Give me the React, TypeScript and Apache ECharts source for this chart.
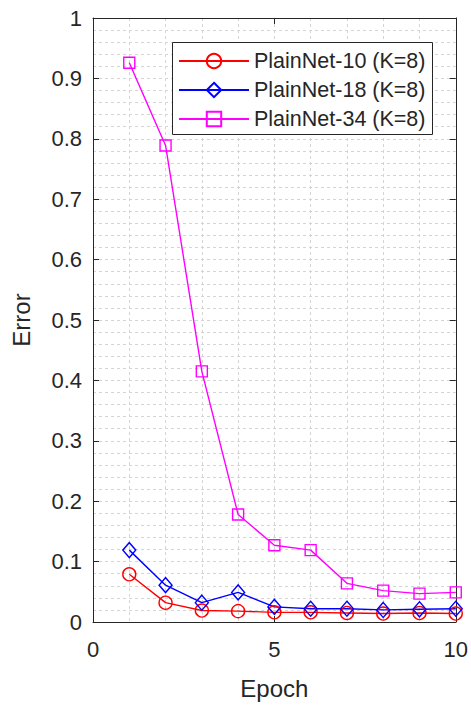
import React, { useEffect, useRef } from "react";
import * as echarts from "echarts";

// Training error per epoch for three plain networks
const epochs = [1, 2, 3, 4, 5, 6, 7, 8, 9, 10];
const plainNet10 = [0.079, 0.032, 0.019, 0.018, 0.016, 0.016, 0.015, 0.014, 0.015, 0.014];
const plainNet18 = [0.119, 0.061, 0.032, 0.049, 0.025, 0.022, 0.022, 0.02, 0.021, 0.022];
const plainNet34 = [0.926, 0.789, 0.415, 0.178, 0.127, 0.119, 0.064, 0.052, 0.047, 0.049];
const seriesNames = ["PlainNet-10 (K=8)", "PlainNet-18 (K=8)", "PlainNet-34 (K=8)"];

const FONT = "Liberation Sans, Arial, Helvetica, sans-serif";
const INK = "#262626";
const GRID = "#d4d4d4";

const pairs = (ys: number[]) => epochs.map((x, i) => [x, ys[i]]);

export default function App() {
  const ref = useRef<HTMLDivElement>(null);

  useEffect(() => {
    if (!ref.current) return;
    const chart = echarts.init(ref.current, undefined, { renderer: "svg" });

    const dashed = { show: true, lineStyle: { color: GRID, type: [3, 3] as any, width: 1 } };
    const boxAxis = {
      axisLine: { show: true, onZero: false, lineStyle: { color: INK, width: 1 } },
      axisTick: { show: true, inside: true, length: 6, lineStyle: { color: INK } },
      axisLabel: { show: false },
      splitLine: { show: false },
    };

    const mkSeries = (name: string, ys: number[], color: string, symbol: string, size: any) => ({
      name,
      type: "line",
      data: pairs(ys),
      symbol,
      symbolSize: size,
      lineStyle: { color, width: 1.4 },
      itemStyle: { color: "rgba(0,0,0,0)", borderColor: color, borderWidth: 1.4 },
      z: 2,
    });

    // one legend row per series, stacked inside a single framed box
    const rowCenters = [59, 88, 117];
    const iconH = 18;
    const legends = seriesNames.map((name, i) => ({
      orient: "horizontal",
      left: 178,
      top: rowCenters[i] - iconH / 2,
      padding: 0,
      itemWidth: 70,
      itemHeight: iconH,
      z: 5,
      textStyle: { fontSize: 21.5, color: INK, fontFamily: FONT },
      data: [name],
    }));

    chart.setOption({
      animation: false,
      backgroundColor: "#ffffff",
      grid: { left: 93, top: 18, right: 15, bottom: 77, containLabel: false },
      xAxis: [
        {
          type: "value",
          min: 0,
          max: 10,
          interval: 5,
          name: "Epoch",
          nameLocation: "middle",
          nameGap: 54,
          nameTextStyle: { fontSize: 24, color: INK, fontFamily: FONT },
          axisLine: { show: true, onZero: false, lineStyle: { color: INK, width: 1 } },
          axisTick: { show: true, inside: true, length: 6, lineStyle: { color: INK } },
          axisLabel: { fontSize: 22, color: INK, fontFamily: FONT, margin: 16 },
          splitLine: dashed,
          minorTick: { show: false, splitNumber: 5 },
          minorSplitLine: dashed,
        },
        { type: "value", position: "top", min: 0, max: 10, interval: 5, ...boxAxis },
      ],
      yAxis: [
        {
          type: "value",
          min: 0,
          max: 1,
          interval: 0.1,
          name: "Error",
          nameLocation: "middle",
          nameGap: 60,
          nameTextStyle: { fontSize: 24, color: INK, fontFamily: FONT },
          axisLine: { show: true, onZero: false, lineStyle: { color: INK, width: 1 } },
          axisTick: { show: true, inside: true, length: 6, lineStyle: { color: INK } },
          axisLabel: {
            fontSize: 22,
            color: INK,
            fontFamily: FONT,
            margin: 11,
            padding: [6, 0, 0, 0],
          },
          splitLine: dashed,
          minorTick: { show: false, splitNumber: 5 },
          minorSplitLine: dashed,
        },
        { type: "value", position: "right", min: 0, max: 1, interval: 0.1, ...boxAxis },
      ],
      legend: legends,
      graphic: [
        {
          type: "rect",
          z: 4,
          shape: { x: 172.5, y: 42.5, width: 260, height: 92 },
          style: { fill: "#ffffff", stroke: INK, lineWidth: 1 },
        },
      ],
      series: [
        mkSeries(seriesNames[0], plainNet10, "#ff0000", "circle", 13),
        mkSeries(seriesNames[1], plainNet18, "#0000ff", "diamond", [13, 15]),
        mkSeries(seriesNames[2], plainNet34, "#ff00ff", "rect", 11),
      ],
    });

    return () => chart.dispose();
  }, []);

  return (
    <div
      ref={ref}
      style={{ position: "fixed", left: 0, top: 0, width: 471, height: 705, background: "#fff" }}
    />
  );
}
